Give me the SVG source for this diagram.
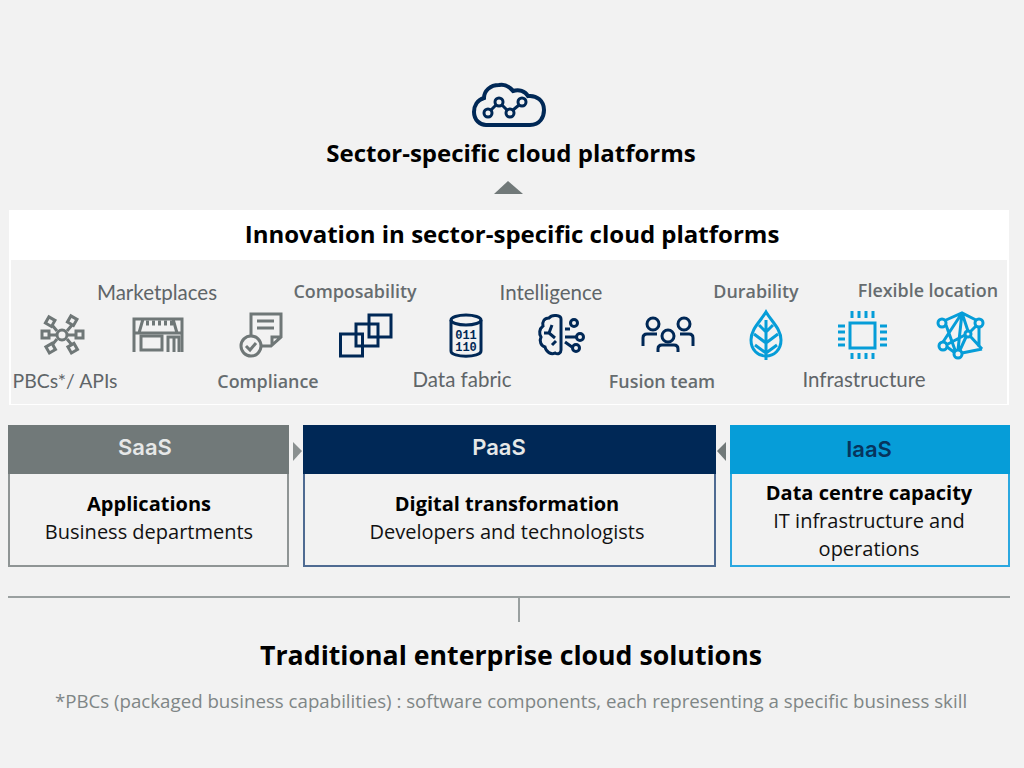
<svg xmlns="http://www.w3.org/2000/svg" width="1024" height="768" viewBox="0 0 1024 768">
<style>
text{font-family:"Open Sans","Liberation Sans",sans-serif;text-anchor:middle}
.t{font-weight:700;fill:#000;font-size:24px}
.h{font-weight:700;fill:#000;font-size:20px}
.b{fill:#111;font-size:20px}
.lb{font-weight:600;fill:#666c6f;font-size:17.900px}
.lq{font-family:Lato,"Liberation Sans",sans-serif;fill:#5f6568;font-size:20.500px}
.hd{font-family:Inter,"Liberation Sans",sans-serif;font-weight:600;font-size:22px}
.g{fill:none;stroke:#6f7777;stroke-width:3}
.n{fill:none;stroke:#002856;stroke-width:3}
.c{fill:none;stroke:#069dd8;stroke-width:3}
</style>
<rect width="1024" height="768" fill="#f2f2f2"/>
<g id="cloud-top">
<path class="n" style="stroke-width:4" d="M486 125H530C540 125 544 117 544 110C544 101 537 95 528 96C525 91 519 89 513 91C509 86 504 84 499 85C490 85 484 91 484 98C477 100 474 106 474 112C474 120 480 125 486 125Z"/>
<path class="n" d="M491 110L496 105M502 105L507 110M513 110L519 105"/>
<g class="n"><circle cx="488" cy="113" r="4"/><circle cx="499" cy="102" r="4"/><circle cx="510" cy="113" r="4"/><circle cx="522" cy="102" r="4"/></g>
<text class="t" x="511" y="162">Sector-specific cloud platforms</text>
</g>
<g id="panel">
<rect x="9" y="210" width="1000" height="195" fill="#fff"/>
<rect x="11" y="260" width="996" height="144" fill="#f2f2f2"/>
<text class="t" x="512" y="243">Innovation in sector-specific cloud platforms</text>
</g>
<g id="pbcs">
<g class="g"><circle cx="62" cy="335" r="5"/><path d="M48 335H57M67 335H76M57 331L52 325M67 331L72 325M57 339L52 345M67 339L72 345"/>
<rect x="42" y="331" width="7" height="7"/><rect x="76" y="331" width="7" height="7"/>
<rect x="47" y="318" width="7" height="7" transform="rotate(30 50 321)"/><rect x="69" y="317" width="7" height="7" transform="rotate(30 72 320)"/>
<rect x="47" y="345" width="7" height="7" transform="rotate(-30 50 348)"/><rect x="69" y="345" width="7" height="7" transform="rotate(-30 72 348)"/></g>
<text class="lq" x="65" y="388" style="font-size:19.400px">PBCs*/ APIs</text></g>
<g id="marketplaces">
<g class="g"><path d="M134 352V319H182V352M134 333H182M139 333L143 319M177 333L173 319"/><rect x="141" y="336" width="21" height="14"/><path d="M168 352V337H179V352M174 338V352"/></g>
<path d="M146 323h3M152 323h3M158 323h3M164 323h3M170 323h3" stroke="#6f7777" stroke-width="5"/>
<text class="lq" x="157" y="300">Marketplaces</text></g>
<g id="compliance">
<g class="g"><path d="M251 335V314H281V337L271 346H262M272 346V337H281M257 321H274M257 328H274"/><circle cx="251" cy="346" r="10"/><path d="M246 346L250 350L256 343"/></g>
<text class="lb" x="268" y="388">Compliance</text></g>
<g id="composability">
<g class="n"><rect x="340.500" y="334" width="22" height="22"/><rect x="356" y="324" width="22" height="22"/><rect x="369" y="315" width="22" height="22"/></g>
<text class="lb" x="355" y="297.500">Composability</text></g>
<g id="data-fabric">
<g class="n"><path d="M451 320V351C451 358 481 358 481 351V320"/><ellipse cx="466" cy="320" rx="15" ry="5"/></g>
<text x="466" y="339" font-size="12" font-weight="700" fill="#002856" style="font-family:'Liberation Mono',monospace">011</text>
<text x="466" y="351" font-size="12" font-weight="700" fill="#002856" style="font-family:'Liberation Mono',monospace">110</text>
<text class="lq" x="462" y="387">Data fabric</text></g>
<g id="intelligence">
<g class="n"><path d="M561 319C561 315 552 314 549 318C544 318 542 322 543 326C539 329 539 334 541 337C539 341 541 346 545 347C546 352 551 355 555 353C558 355 561 353 561 350Z"/><path d="M552 325L549 333L555 338M549 333H544M552 345L556 341M565 329H570M565 337H576M565 342L572 347"/><circle cx="574" cy="323" r="3.500"/><circle cx="580" cy="337" r="3.500"/><circle cx="576" cy="348" r="3.500"/></g>
<text class="lq" x="551" y="300">Intelligence</text></g>
<g id="fusion-team">
<g class="n"><circle cx="653" cy="324" r="6"/><circle cx="684" cy="324" r="6"/><circle cx="668" cy="336" r="6"/><path d="M643 346V338Q643 334 647 334H657M693 346V338Q693 334 689 334H680M658 352V349Q658 345 662 345H674Q678 345 678 349V352"/></g>
<text class="lb" x="662" y="388">Fusion team</text></g>
<g id="durability">
<g class="c"><path d="M766 312C760 322 751 329 751 340C751 350 758 356 766 356C774 356 781 350 781 340C781 329 772 322 766 312Z"/><path d="M766 320V360M766 332L759 325M766 332L773 325M766 343L754 334M766 343L778 334M766 353L755 345M766 353L777 345"/></g>
<text class="lb" x="756" y="297.500">Durability</text></g>
<g id="infrastructure">
<g class="c"><rect x="850" y="323" width="25" height="25"/><path d="M852 311V318M859 311V318M866 311V318M873 311V318M852 353V359M859 353V359M866 353V359M873 353V359M838 326H845M838 332H845M838 339H845M838 345H845M880 326H887M880 332H887M880 339H887M880 345H887"/></g>
<text class="lq" x="864" y="387">Infrastructure</text></g>
<g id="flexible-location">
<g class="c"><circle cx="942" cy="323" r="4"/><circle cx="979" cy="323" r="4"/><circle cx="943" cy="346" r="4"/><circle cx="958" cy="354" r="4"/><circle cx="968" cy="334" r="3"/><path d="M946 320L962 313L976 320M962 313L943 342M962 313L968 331M962 313L958 350M979 327V347M946 325L955 350M947 347L954 352M962 353L982 349M976 326L970 332M966 337L960 350M970 336L982 349M946 345L965 335"/></g>
<text class="lb" x="928" y="296.500">Flexible location</text></g>
<g id="saas">
<rect x="9" y="426" width="279" height="140" fill="#f2f2f2" stroke="#8f9595" stroke-width="2"/>
<rect x="8" y="425" width="281" height="49" fill="#717979"/>
<text class="hd" x="145" y="455" fill="#e6e8e8">SaaS</text>
<text class="h" x="149" y="511">Applications</text>
<text class="b" x="149" y="539">Business departments</text></g>
<g id="paas">
<rect x="304" y="426" width="411" height="140" fill="#f2f2f2" stroke="#4f6b92" stroke-width="2"/>
<rect x="303" y="425" width="413" height="49" fill="#002856"/>
<text class="hd" x="499" y="455" fill="#e6e8e8">PaaS</text>
<text class="h" x="507" y="511">Digital transformation</text>
<text class="b" x="507" y="539">Developers and technologists</text></g>
<g id="iaas">
<rect x="731" y="426" width="278" height="140" fill="#f2f2f2" stroke="#2ba8e0" stroke-width="2"/>
<rect x="730" y="425" width="280" height="49" fill="#069dd8"/>
<text class="hd" x="869" y="457" fill="#06345c">IaaS</text>
<text class="h" x="869" y="500">Data centre capacity</text>
<text class="b" x="869" y="528">IT infrastructure and</text>
<text class="b" x="869" y="556">operations</text></g>
<g id="connectors">
<polygon points="494,194 508,181 523,194" fill="#717979"/>
<polygon points="293,442 302,451 293,461" fill="#8a9090"/>
<polygon points="726,442 717,451 726,461" fill="#717979"/>
<path d="M8 597H1010M519 597V622" fill="none" stroke="#9aa0a0" stroke-width="2"/>
</g>
<g id="footer">
<text class="t" x="511" y="665" style="font-size:26.700px">Traditional enterprise cloud solutions</text>
<text x="511" y="708" font-size="18.700" fill="#7f8686">*PBCs (packaged business capabilities) : software components, each representing a specific business skill</text>
</g>
</svg>
